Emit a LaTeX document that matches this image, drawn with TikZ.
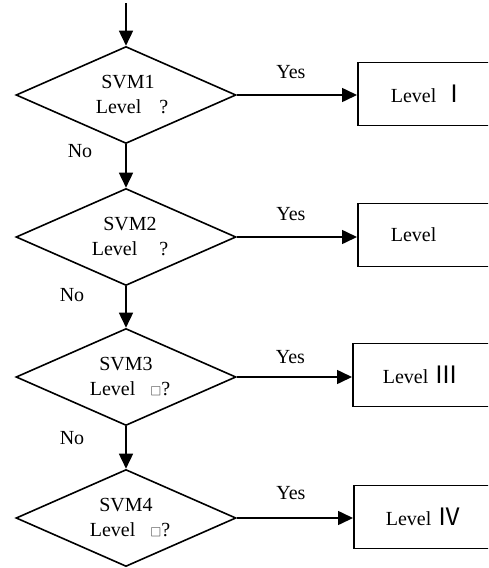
\documentclass[tikz,border=0pt]{standalone}
\usepackage{fontspec}
\setmainfont{Liberation Serif}
\newfontfamily\cjk{Noto Sans CJK SC}
\usetikzlibrary{arrows.meta}
\usetikzlibrary{shapes.geometric, positioning, arrows.meta}
\tikzset{
    decision/.style={diamond, draw, line width=1.6pt, inner sep=0pt, aspect=2.3,
        minimum width=220pt, minimum height=97pt, align=center,
        font=\fontsize{20}{25}\selectfont},
    levelbox/.style={rectangle, draw, line width=1.6pt, anchor=west, minimum height=63pt,
        text width=120pt, inner xsep=33pt, align=left, font=\fontsize{20}{24}\selectfont},
    lbl/.style={font=\fontsize{20}{24}\selectfont, inner sep=0pt},
}
\newcommand{\sq}{{\cjk\fontsize{11}{11}\selectfont □}}
\newcommand{\rom}[1]{{\cjk\fontsize{24}{24}\selectfont #1}}

\begin{document}
\begin{tikzpicture}[x=1pt, y=-1pt, >={Triangle[length=15pt, width=14pt]}, line width=1.6pt]

            \clip (0,0) rectangle (488,568);

            % Decisions
            \node[decision] (d1) at (126,95) {\hspace*{4pt}SVM1\\\hspace*{12pt}Level\hspace{18pt}?};
            \node[decision] (d2) at (126,237) {\hspace*{8pt}SVM2\\\hspace*{8pt}Level\hspace{22pt}?};
            \node[decision] (d3) at (126,377) {SVM3\\\hspace*{8pt}Level\hspace{15pt}\sq?};
            \node[decision] (d4) at (126,518) {SVM4\\\hspace*{8pt}Level\hspace{15pt}\sq?};

            % Levels
            \node[levelbox] (b1) at (357,94) {Level \rom{Ⅰ}};
            \node[levelbox] (b2) at (357,235) {Level};
            \node[levelbox, inner xsep=30pt] (b3) at (352,375) {Level \rom{Ⅲ}};
            \node[levelbox, inner xsep=32pt] (b4) at (353,517) {Level \rom{Ⅳ}};

            % Input
            \coordinate (start) at (126,3);
            \draw[->] (start) -- (d1.north);

            % Yes branches
            \draw[->] (d1.east) -- node[lbl, above=16pt, xshift=-6pt] (yes1) {Yes} (d1.east -| b1.west);
            \draw[->] (d2.east) -- node[lbl, above=16pt, xshift=-6pt] (yes2) {Yes} (d2.east -| b2.west);
            \draw[->] (d3.east) -- node[lbl, above=13pt, xshift=-4pt] (yes3) {Yes} (d3.east -| b3.west);
            \draw[->] (d4.east) -- node[lbl, above=18pt, xshift=-4pt] (yes4) {Yes} (d4.east -| b4.west);

            % No branches
            \draw[->] (d1.south) -- (d2.north);
            \draw[->] (d2.south) -- (d3.north);
            \draw[->] (d3.south) -- (d4.north);
            \node[lbl] (no1) at (80,151) {No};
            \node[lbl] (no2) at (72,295) {No};
            \node[lbl] (no3) at (72,438) {No};

        \end{tikzpicture}
\end{document}
